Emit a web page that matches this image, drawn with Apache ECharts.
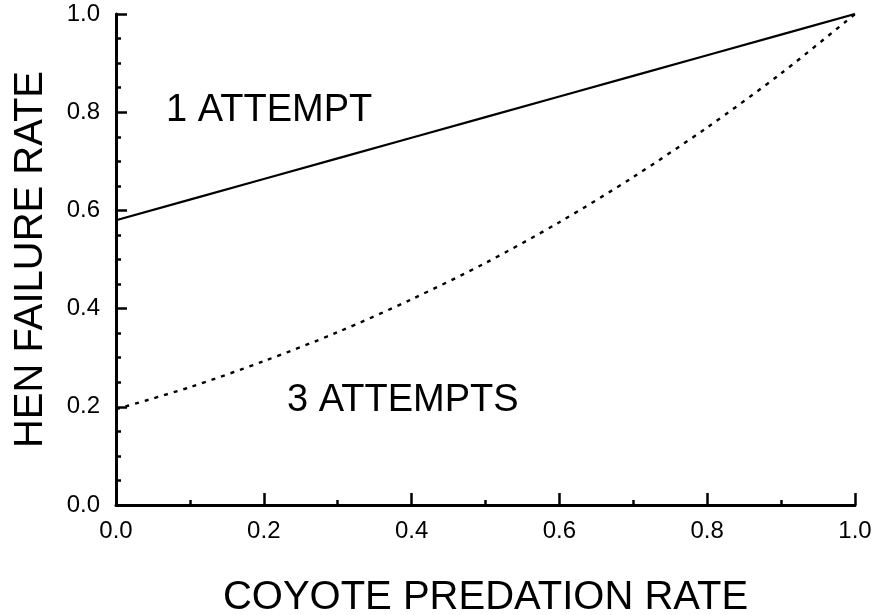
<!DOCTYPE html>
<html>
<head>
<meta charset="utf-8">
<script src="https://cdn.jsdelivr.net/npm/echarts@6/dist/echarts.min.js"></script>
<style>
html,body{margin:0;padding:0;background:#fff;}
#chart{width:878px;height:615px;}
</style>
</head>
<body>
<div id="chart"></div>
<script>
// Data
const predationRate = [0.0, 0.1, 0.2, 0.3, 0.4, 0.5, 0.6, 0.7, 0.8, 0.9, 1.0];
const oneAttempt    = [0.58, 0.622, 0.664, 0.706, 0.748, 0.79, 0.832, 0.874, 0.916, 0.958, 1.0];
const threeAttempts = [0.195, 0.24, 0.293, 0.352, 0.419, 0.493, 0.576, 0.668, 0.769, 0.879, 1.0];
const xTitle = 'COYOTE PREDATION RATE';
const yTitle = 'HEN FAILURE RATE';
const label1 = '1 ATTEMPT';
const label3 = '3 ATTEMPTS';

const FONT = 'Liberation Sans';
const chart = echarts.init(document.getElementById('chart'));
const pairs = (xs, ys) => xs.map((x, i) => [x, ys[i]]);

chart.setOption({
  animation: false,
  backgroundColor: '#fff',
  grid: {left: 116, right: 23, top: 14, bottom: 110, containLabel: false, outerBoundsMode: 'none'},
  xAxis: {
    type: 'value', min: 0, max: 1, interval: 0.2,
    name: xTitle, nameLocation: 'middle', nameGap: 73,
    nameTextStyle: {fontFamily: FONT, fontSize: 40, color: '#000'},
    axisLine: {show: true, onZero: false, lineStyle: {color: '#000', width: 3}},
    axisTick: {show: true, inside: true, length: 12, lineStyle: {color: '#000', width: 2.5}},
    minorTick: {show: true, splitNumber: 2, length: 5, lineStyle: {color: '#000', width: 2.5}},
    splitLine: {show: false},
    axisLabel: {margin: 14, fontFamily: FONT, fontSize: 24, color: '#000',
      formatter: v => v.toFixed(1)}
  },
  yAxis: {
    type: 'value', min: 0, max: 1, interval: 0.2,
    name: yTitle, nameLocation: 'middle', nameGap: 65,
    nameTextStyle: {fontFamily: FONT, fontSize: 40, color: '#000'},
    axisLine: {show: true, onZero: false, lineStyle: {color: '#000', width: 3}},
    axisTick: {show: true, inside: true, length: 11, lineStyle: {color: '#000', width: 2.5}},
    minorTick: {show: true, splitNumber: 4, length: 5, lineStyle: {color: '#000', width: 2.5}},
    splitLine: {show: false},
    axisLabel: {margin: 16, fontFamily: FONT, fontSize: 24, color: '#000',
      formatter: v => v.toFixed(1)}
  },
  series: [
    {
      type: 'line', name: label1, data: pairs(predationRate, oneAttempt),
      showSymbol: false, smooth: false,
      lineStyle: {color: '#000', width: 2.2}
    },
    {
      type: 'line', name: label3, data: pairs(predationRate, threeAttempts),
      showSymbol: false, smooth: 0.3,
      lineStyle: {color: '#000', width: 2.4, type: [4, 6]}
    }
  ],
  graphic: [
    {type: 'text', left: 166, top: 92, style: {text: label1, fontFamily: FONT, fontSize: 38, fill: '#000'}},
    {type: 'text', left: 287, top: 382, style: {text: label3, fontFamily: FONT, fontSize: 38, fill: '#000'}}
  ]
});
</script>
</body>
</html>
